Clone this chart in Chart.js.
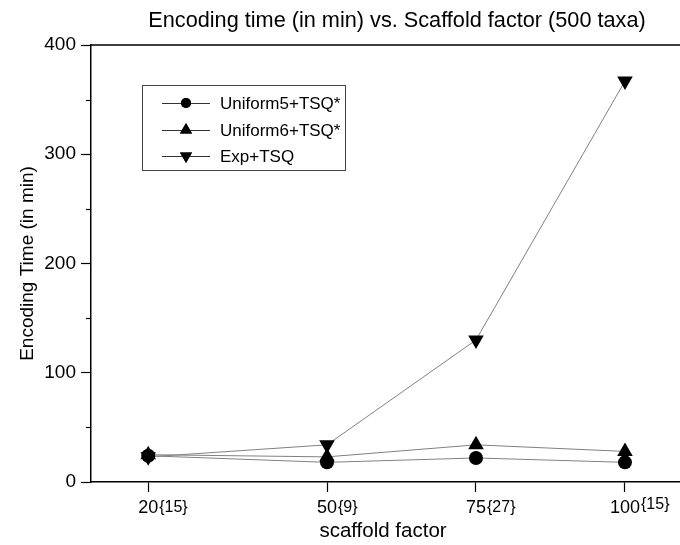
<!DOCTYPE html>
<html>
<head>
<meta charset="utf-8">
<script src="https://cdn.jsdelivr.net/npm/chart.js@4/dist/chart.umd.min.js"></script>
<style>
  html, body { margin: 0; padding: 0; background: #fff; overflow: hidden; }
  #wrap { width: 690px; height: 545px; }
</style>
</head>
<body>
<div id="wrap"><canvas id="encChart" width="690" height="545"></canvas></div>
<script>
// scaffold factor values and their tick labels (number + {count})
const scaffold = [20, 50, 75, 100];
const scaffoldNums = ['20', '50', '75', '100'];
const scaffoldBraces = ['{15}', '{9}', '{27}', '{15}'];

// encoding time in minutes
const uniform5 = [24, 18, 22, 18];
const uniform6 = [25, 23, 34, 28];
const expTsq = [23, 34, 130, 367];

const seriesNames = ['Uniform5+TSQ*', 'Uniform6+TSQ*', 'Exp+TSQ'];
const yTicks = [0, 100, 200, 300, 400];
const yMinorTicks = [50, 150, 250, 350];

const FONT = '"Liberation Sans", Arial, sans-serif';

const toPoints = arr => arr.map((v, i) => ({ x: scaffold[i], y: v }));

// markers used by each series (also reused in the legend box)
const markers = [
    { pointStyle: 'circle', radius: 7, rotation: 0 },
    { pointStyle: 'triangle', radius: 9, rotation: 0 },
    { pointStyle: 'triangle', radius: 9, rotation: 180 }
];

const extras = {
    id: 'extras',
    afterDraw(chart) {
        const c = chart.ctx;
        const area = chart.chartArea;
        const x = chart.scales.x;
        const y = chart.scales.y;

        c.save();
        // top frame line
        c.strokeStyle = '#000';
        c.lineWidth = 1.5;
        c.beginPath();
        c.moveTo(area.left, area.top);
        c.lineTo(690, area.top);
        c.stroke();

        // minor ticks on y axis
        c.lineWidth = 1.2;
        yMinorTicks.forEach(v => {
            const py = Math.round(y.getPixelForValue(v)) + 0.5;
            c.beginPath();
            c.moveTo(area.left - 5, py);
            c.lineTo(area.left, py);
            c.stroke();
        });

        c.fillStyle = '#000';
        c.textBaseline = 'middle';

        // x tick labels: number centred on the tick, {n} following it
        scaffold.forEach((v, i) => {
            const px = x.getPixelForValue(v);
            c.font = '18px ' + FONT;
            const w = c.measureText(scaffoldNums[i]).width;
            c.textAlign = 'left';
            c.fillText(scaffoldNums[i], px - w / 2, 508);
            c.font = '16px ' + FONT;
            c.fillText(scaffoldBraces[i], px + w / 2 + 1, i === 3 ? 505 : 508);
        });

        // title
        c.font = '21.7px ' + FONT;
        c.textAlign = 'center';
        c.fillText('Encoding time (in min) vs. Scaffold factor (500 taxa)', 397, 21);

        // x axis title
        c.font = '20.5px ' + FONT;
        c.fillText('scaffold factor', 383, 531);

        // legend box
        c.strokeStyle = '#444';
        c.lineWidth = 1;
        c.strokeRect(142.5, 85.5, 203, 85);
        const rows = [103, 130, 156];
        c.font = '17px ' + FONT;
        c.textAlign = 'left';
        rows.forEach((ry, i) => {
            c.strokeStyle = '#333';
            c.lineWidth = 1;
            c.beginPath();
            c.moveTo(162, ry + 0.5);
            c.lineTo(210, ry + 0.5);
            c.stroke();
            Chart.helpers.drawPoint(c, {
                pointStyle: markers[i].pointStyle,
                radius: i === 0 ? 5 : 7,
                rotation: markers[i].rotation,
                borderWidth: 0
            }, 186, ry);
            c.fillStyle = '#000';
            c.fill();
            c.fillText(seriesNames[i], 220, ry + 1);
        });
        c.restore();
    }
};

const ctx = document.getElementById('encChart');

const makeSet = (label, data, m) => ({
    label: label,
    data: toPoints(data),
    borderColor: '#808080',
    borderWidth: 1,
    backgroundColor: '#000',
    pointBackgroundColor: '#000',
    pointBorderColor: '#000',
    pointBorderWidth: 0,
    pointStyle: m.pointStyle,
    pointRadius: m.radius,
    pointRotation: m.rotation,
    tension: 0
});

new Chart(ctx, {
    type: 'line',
    data: {
        datasets: [
            makeSet(seriesNames[0], uniform5, markers[0]),
            makeSet(seriesNames[1], uniform6, markers[1]),
            makeSet(seriesNames[2], expTsq, markers[2])
        ]
    },
    options: {
        responsive: false,
        animation: false,
        layout: { padding: { top: 45, right: 2, left: 0, bottom: 0 } },
        plugins: {
            legend: { display: false },
            title: { display: false },
            tooltip: { enabled: false }
        },
        scales: {
            x: {
                type: 'linear',
                min: 10.4,
                max: 109.4,
                afterFit: s => { s.height = 63; },
                afterBuildTicks: s => { s.ticks = scaffold.map(v => ({ value: v })); },
                grid: {
                    drawOnChartArea: false,
                    drawTicks: true,
                    tickLength: 10,
                    tickColor: '#000',
                    tickWidth: 1.2
                },
                border: { display: true, color: '#000', width: 1.5 },
                ticks: { display: false }
            },
            y: {
                min: 0,
                max: 400,
                afterFit: s => { s.width = 91; },
                afterBuildTicks: s => { s.ticks = yTicks.map(v => ({ value: v })); },
                grid: {
                    drawOnChartArea: false,
                    drawTicks: true,
                    tickLength: 10,
                    tickColor: '#000',
                    tickWidth: 1.2
                },
                border: { display: true, color: '#000', width: 1.5 },
                ticks: {
                    color: '#000',
                    padding: 5,
                    font: { family: FONT, size: 19 }
                },
                title: {
                    display: true,
                    text: 'Encoding Time (in min)',
                    color: '#000',
                    font: { family: FONT, size: 19 },
                    padding: { top: 16, bottom: 0 }
                }
            }
        }
    },
    plugins: [extras]
});
</script>
</body>
</html>
